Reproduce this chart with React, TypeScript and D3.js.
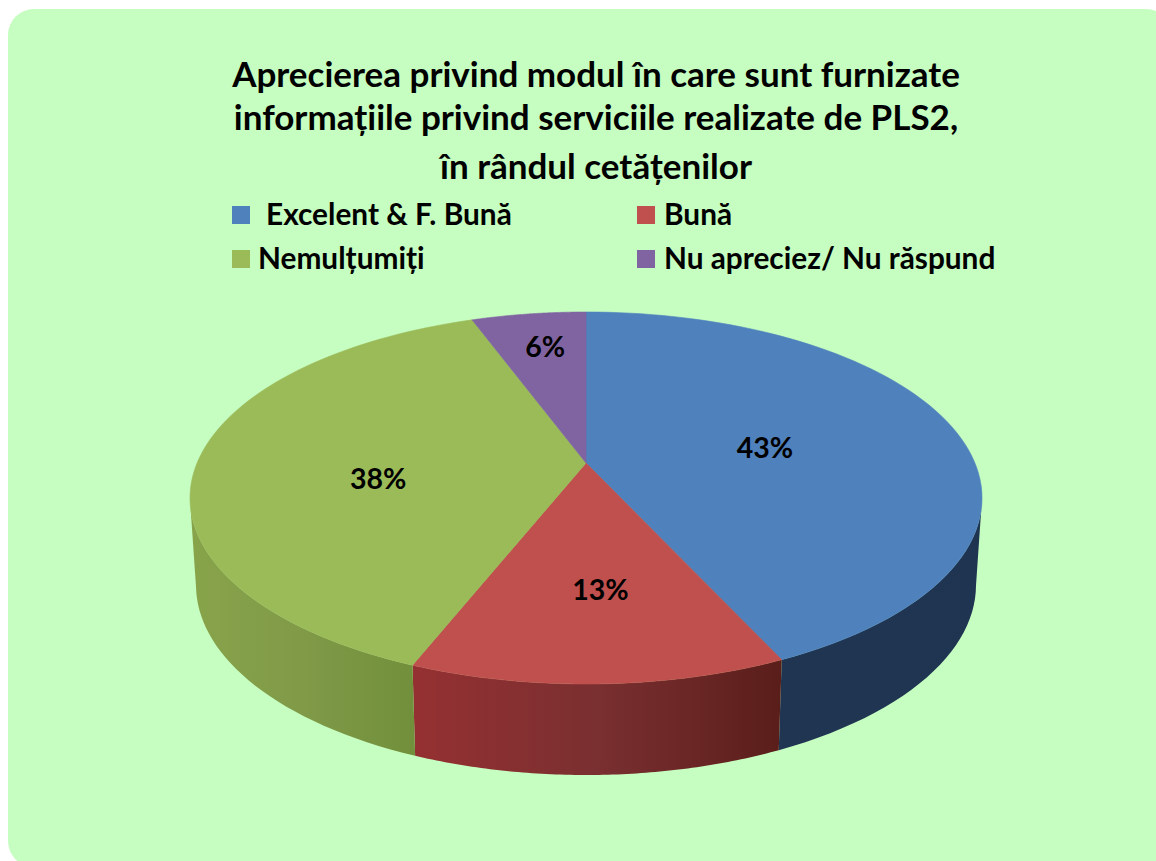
import React from "react";
import * as d3 from "d3";

const categories = ["Excelent & F. Bună", "Bună", "Nemulțumiți", "Nu apreciez/ Nu răspund"];
const values = [43.15, 12.85, 38.4, 5.6];
const topColors = ["#4f81bd", "#c0504d", "#9bbb59", "#8064a2"];
// left to right shades of the wall under each slice
const wallStops = [
  ["#1f3552", "#1f3552", "#1e3450"],
  ["#953032", "#7a2f30", "#5a1e1a"],
  ["#88a44a", "#809a48", "#72903c"],
  ["#4c3b62", "#4c3b62", "#4c3b62"],
];
const titleLines = [
  "Aprecierea privind modul în care sunt furnizate",
  "informațiile privind serviciile realizate de PLS2,",
  "în rândul cetățenilor",
];

const width = 1156;
const height = 861;
const font = "Lato, sans-serif";

// top face and bottom rim of the disc
const cx = 586;
const top = { cy: 498, rx: 396, ry: 186 };
const bottom = { cy: 585, rx: 390, ry: 190 };
// perspective: moves the disc centre up so it lands at y = 463
const tilt = -0.188;

// disc coords (angle clockwise from 12 o'clock, r 0..1) -> ellipse coords
const project = (angle: number, r = 1) => {
  const u = r * Math.sin(angle);
  const v = -r * Math.cos(angle);
  const d = 1 + tilt * v;
  return { u: (u * Math.sqrt(1 - tilt * tilt)) / d, v: (v + tilt) / d };
};
const onEllipse = (p: { u: number; v: number }, e: typeof top): [number, number] => [
  cx + p.u * e.rx,
  e.cy + p.v * e.ry,
];

const pie = d3.pie<number>().sort(null);
const slices = pie(values);
const line = d3.line();
const angleSteps = (a0: number, a1: number) => d3.range(0, 1.0001, 1 / 80).map((t) => a0 + (a1 - a0) * t);

const topPath = (a0: number, a1: number) =>
  line([onEllipse(project(0, 0), top), ...angleSteps(a0, a1).map((a) => onEllipse(project(a), top))]) + "Z";

const wallPath = (a0: number, a1: number) => {
  const rim = angleSteps(a0, a1).map((a) => project(a)).filter((p) => p.v >= 0);
  if (rim.length < 2) return null;
  return line([...rim.map((p) => onEllipse(p, top)), ...rim.slice().reverse().map((p) => onEllipse(p, bottom))]) + "Z";
};

// label nudges from the projected slice centre
const labelRadius = [0.48, 0.625, 0.535, 0.75];
const labelShiftX = [0, 7, 0, 4];
const labelShiftY = [3, 0, 17, 0];

export default function App() {
  return (
    <svg
      width={width}
      height={height}
      style={{ position: "absolute", left: 0, top: 0, background: "#ffffff" }}
      fontFamily={font}
      fontWeight={700}
    >
      <defs>
        {slices.map((s, i) => {
          const xs = angleSteps(s.startAngle, s.endAngle)
            .map((a) => project(a))
            .filter((p) => p.v >= 0)
            .map((p) => onEllipse(p, top)[0]);
          const [x0, x1] = xs.length ? (d3.extent(xs) as [number, number]) : [0, 1];
          return (
            <linearGradient key={i} id={`wall${i}`} gradientUnits="userSpaceOnUse" x1={x0} x2={x1} y1={0} y2={0}>
              {wallStops[i].map((c, j) => (
                <stop key={j} offset={j / (wallStops[i].length - 1)} stopColor={c} />
              ))}
            </linearGradient>
          );
        })}
      </defs>

      <rect x={8} y={9} width={1164} height={858} rx={26} ry={26} fill="#c6fdc0" />

      {titleLines.map((t, i) => (
        <text key={i} x={596} y={[87, 130, 179][i]} textAnchor="middle" fontSize={35} fill="#000">
          {t}
        </text>
      ))}

      {/* legend */}
      {categories.map((c, i) => {
        const col = i % 2;
        const row = Math.floor(i / 2);
        const sx = col ? 637 : 232;
        const sy = 206 + row * 44;
        const tx = i === 0 ? 266 : col ? 664 : 258;
        return (
          <g key={c}>
            <rect x={sx} y={sy} width={18} height={18} fill={topColors[i]} />
            <text x={tx} y={sy + 19} fontSize={29.8} fill="#000">
              {c}
            </text>
          </g>
        );
      })}

      {/* walls */}
      {slices.map((s, i) => {
        const d = wallPath(s.startAngle, s.endAngle);
        return d ? <path key={i} d={d} fill={`url(#wall${i})`} /> : null;
      })}

      {/* top faces */}
      {slices.map((s, i) => (
        <path key={i} d={topPath(s.startAngle, s.endAngle)} fill={topColors[i]} stroke={topColors[i]} strokeWidth={0.6} />
      ))}

      {/* value labels */}
      {slices.map((s, i) => {
        const [x, y] = onEllipse(project((s.startAngle + s.endAngle) / 2, labelRadius[i]), top);
        return (
          <text key={i} x={x + labelShiftX[i]} y={y + labelShiftY[i] + 10} textAnchor="middle" fontSize={28.5} fill="#000">
            {d3.format(".0f")(s.value)}%
          </text>
        );
      })}
    </svg>
  );
}
